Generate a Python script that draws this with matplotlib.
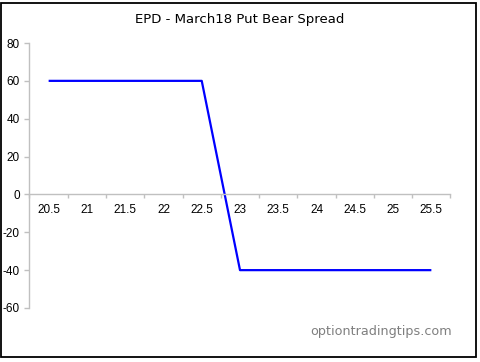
import matplotlib
matplotlib.use("Agg")
import matplotlib.pyplot as plt
from matplotlib.patches import Rectangle
import numpy as np

title = "EPD - March18 Put Bear Spread"
x_labels = ["20.5", "21", "21.5", "22", "22.5", "23", "23.5", "24", "24.5", "25", "25.5"]
profit = [60, 60, 60, 60, 60, -40, -40, -40, -40, -40, -40]
y_ticks = [-60, -40, -20, 0, 20, 40, 60, 80]
watermark = "optiontradingtips.com"

W, H = 481, 362
fig = plt.figure(figsize=(W / 100, H / 100), dpi=100)
ax = fig.add_axes([29.5 / W, 54 / H, 421 / W, 265 / H])

x = np.arange(len(x_labels))
ax.plot(x, profit, color="#0000ff", linewidth=1.6, solid_capstyle="butt")

ax.set_xlim(-0.5, len(x_labels) - 0.5)
ax.set_ylim(-60, 80)

axis_col = "#c0c0c0"
for s in ["top", "right"]:
    ax.spines[s].set_visible(False)
ax.spines["left"].set_color(axis_col)
ax.spines["bottom"].set_color(axis_col)
ax.spines["bottom"].set_position(("data", 0))
ax.spines["left"].set_linewidth(1.0)
ax.spines["bottom"].set_linewidth(1.0)

ax.set_yticks(y_ticks)
ax.set_yticklabels([str(v) for v in y_ticks], fontfamily="Liberation Sans", fontsize=8.5)
ax.tick_params(axis="y", direction="out", length=3.5, width=1.0, color=axis_col, pad=3.5)

ax.set_xticks(np.arange(-0.5, len(x_labels), 1.0))
ax.set_xticklabels([])
ax.tick_params(axis="x", which="major", direction="out", length=3, width=1.0, color=axis_col)
ax.set_xticks(x, minor=True)
ax.set_xticklabels(x_labels, minor=True, fontfamily="Liberation Sans", fontsize=8.5)
ax.tick_params(axis="x", which="minor", length=0, pad=7)

fig.text(240 / W, 1 - 20 / H, title, ha="center", va="center",
         fontfamily="DejaVu Sans", fontsize=9.5, color="black")
fig.text(452 / W, 1 - 331 / H, watermark, ha="right", va="center",
         fontfamily="DejaVu Sans", fontsize=9.2, color="#7f7f7f")

fig.patches.append(Rectangle((0.7 / W, 5 / H), 475.5 / W, 354.5 / H,
                             transform=fig.transFigure, fill=False,
                             edgecolor="black", linewidth=1.3))

fig.savefig("out.png", dpi=100, facecolor="white")
